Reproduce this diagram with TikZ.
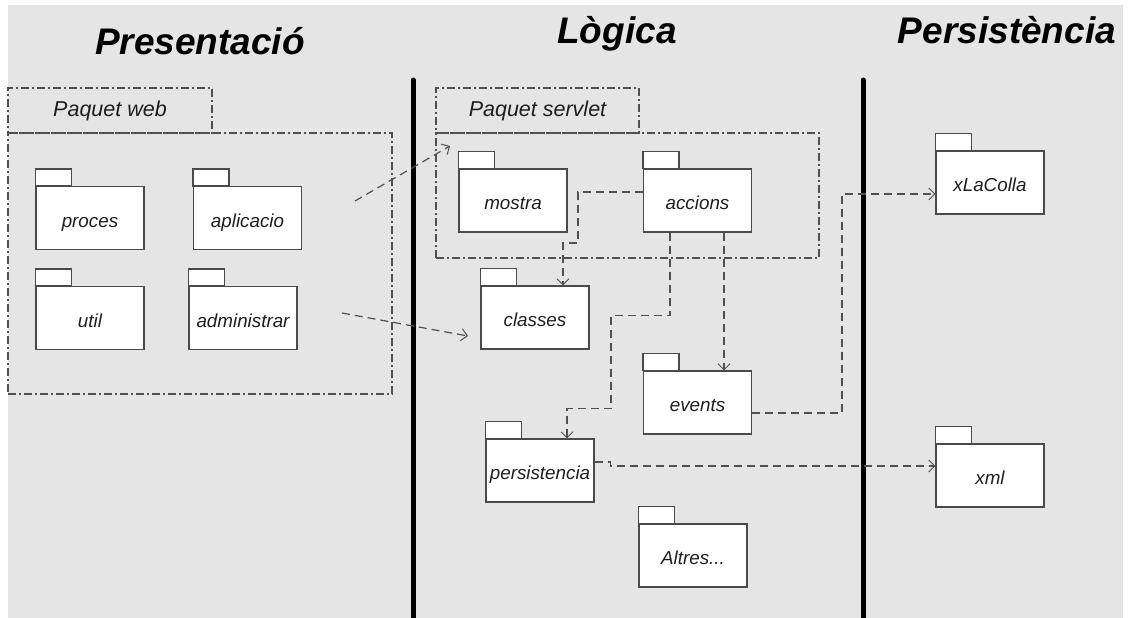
\documentclass[tikz,border=0pt]{standalone}
\usepackage{fontspec}
\setmainfont{Liberation Sans}
\usetikzlibrary{arrows.meta,calc}
\definecolor{bggray}{HTML}{E5E5E5}
\definecolor{edge}{HTML}{4A4A4A}
\definecolor{dep}{HTML}{505050}
\definecolor{txt}{HTML}{1E1E1E}
\tikzset{
  pkg/.style={draw=edge, line width=1.1pt, fill=white, minimum width=108pt, minimum height=63pt,
    inner sep=0pt, text height=18pt, text depth=0pt,
    font=\fontsize{18.8}{20}\selectfont\itshape, text=txt},
  pkgtab/.style={draw=edge, line width=1.1pt, fill=white},
  frame/.style={draw=dep, line width=1.1pt, dash pattern=on 8pt off 3pt on 2pt off 3pt, inner sep=0pt},
  framelabel/.style={font=\fontsize{21.5}{24}\selectfont\itshape, text=txt},
  depline/.style={draw=dep, line width=1.2pt, dash pattern=on 8pt off 5pt,
    -{Straight Barb[length=6pt,width=12pt,line width=1pt]}},
  layerline/.style={line width=5pt, line cap=round, draw=black},
  header/.style={font=\fontsize{37}{40}\selectfont\bfseries\itshape, anchor=base, inner sep=0pt}
}
\newcommand\pkgbox[4]{%
  \node[pkg] (#1) at (#2,#3) {#4};
  \draw[pkgtab] (#1.north west) rectangle ++(36,-17);
}
\begin{document}
\begin{tikzpicture}[x=1pt,y=-1pt]
  \useasboundingbox (0,0) rectangle (1128,618);
  \fill[bggray] (8,5) rectangle (1123,618);

  % headers
  \node[header] (hpres) at (200,55) {Presentació};
  \node[header] (hlog) at (617,44) {Lògica};
  \node[header] (hpers) at (1007,44) {Persistència};

  % layer separators
  \draw[layerline] (413,80) -- (413,620);
  \draw[layerline] (863,80) -- (863,620);

  % package frames
  \node[frame, minimum width=204pt, minimum height=45pt] (webtab) at (110,110.5) {};
  \node[framelabel] (webtxt) at (webtab) {Paquet web};
  \node[frame, minimum width=384pt, minimum height=261pt] (webframe) at (200,263.5) {};
  \node[frame, minimum width=203pt, minimum height=45pt] (servtab) at (537.5,110.5) {};
  \node[framelabel] (servtxt) at (servtab) {Paquet servlet};
  \node[frame, minimum width=383pt, minimum height=125pt] (servframe) at (627.5,195.5) {};

  % packages
  \pkgbox{proces}{90}{218}{proces}
  \pkgbox{aplicacio}{247.5}{218}{aplicacio}
  \pkgbox{util}{90}{318}{util}
  \pkgbox{administrar}{243}{318}{administrar}
  \pkgbox{mostra}{513}{200.5}{mostra}
  \pkgbox{accions}{697.5}{200.5}{accions}
  \pkgbox{classes}{535}{317.5}{classes}
  \pkgbox{events}{697.5}{402.5}{events}
  \pkgbox{persistencia}{540}{470.5}{persistencia}
  \pkgbox{altres}{693}{555.5}{Altres...}
  \pkgbox{xlacolla}{990}{182.5}{xLaColla}
  \pkgbox{xml}{990}{475.5}{xml}

  % free connectors between the two package groups
  \coordinate (w1) at (355,201);
  \coordinate (s1) at (450,146);
  \coordinate (w2) at (342,313);
  \coordinate (s2) at (468,336);
  \draw[depline] (w1) -- (s1);
  \draw[depline] (w2) -- (s2);

  % dependencies
  \draw[depline] ([yshift=8.5pt]accions.west) -- ++(-65,0) -- ++(0,51) -| ([xshift=28pt]classes.north);
  \draw[depline] ([xshift=-27.5pt]accions.south) -- ++(0,83) -- ++(-59,0) -- ++(0,93) -| ([xshift=27pt]persistencia.north);
  \draw[depline] ([xshift=26.5pt]accions.south) -- ([xshift=26.5pt]events.north);
  \draw[depline] ([yshift=-10.5pt]events.east) -- ++(90,0) |- ([yshift=-11.5pt]xlacolla.west);
  \draw[depline] ([yshift=8.5pt]persistencia.east) -- ++(16,0) -- ++(0,4) -- ([yshift=9.5pt]xml.west);
\end{tikzpicture}
\end{document}
